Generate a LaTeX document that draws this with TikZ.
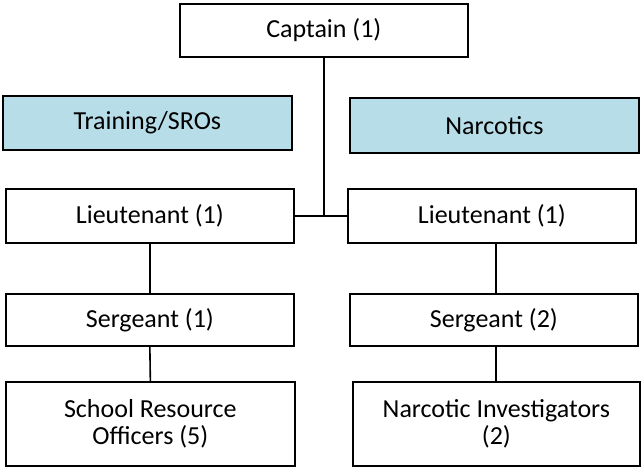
\documentclass[tikz,border=0pt]{standalone}
\usepackage{fontspec}
\setmainfont{Carlito}
\definecolor{tealfill}{HTML}{B7DEE8}
\begin{document}
\begin{tikzpicture}[x=1pt,y=-1pt,
  box/.style={draw=black, line width=1.7pt, fill=white, anchor=north west, inner sep=0pt,
    align=center, font=\fontsize{26}{27.5}\selectfont},
  unitbox/.style={box, fill=tealfill},
  link/.style={draw=black, line width=1.6pt}]
\useasboundingbox[fill=white] (0,0) rectangle (642,467);
\node[box, minimum width=288pt, minimum height=53pt] (cap) at (179,3) {Captain (1)};
\node[unitbox, minimum width=289pt, minimum height=54pt] (trn) at (2,95) {Training/SROs};
\node[unitbox, minimum width=289pt, minimum height=55pt] (nar) at (349,97) {Narcotics};
\node[box, minimum width=288pt, minimum height=54pt] (ltl) at (5,188) {Lieutenant (1)};
\node[box, minimum width=288pt, minimum height=54pt] (ltr) at (347,188) {Lieutenant (1)};
\node[box, minimum width=288pt, minimum height=52pt] (sgl) at (5,293) {Sergeant (1)};
\node[box, minimum width=288pt, minimum height=52pt] (sgr) at (349,293) {Sergeant (2)};
\node[box, minimum width=289pt, minimum height=84pt] (sro) at (5,381) {School Resource\\Officers (5)};
\node[box, minimum width=287pt, minimum height=84pt] (niv) at (352,381) {Narcotic Investigators\\(2)};
\draw[link] (cap.south) -- (cap.south |- ltl.east);
\draw[link] (ltl.east) -- (ltr.west);
\draw[link] (ltl.south) -- (sgl.north);
\draw[link] (sgl.south) -- (sro.north);
\draw[link] ([xshift=149pt]ltr.south west) -- ([xshift=147pt]sgr.north west);
\draw[link] ([xshift=147pt]sgr.south west) -- ([xshift=144pt]niv.north west);
\end{tikzpicture}
\end{document}
